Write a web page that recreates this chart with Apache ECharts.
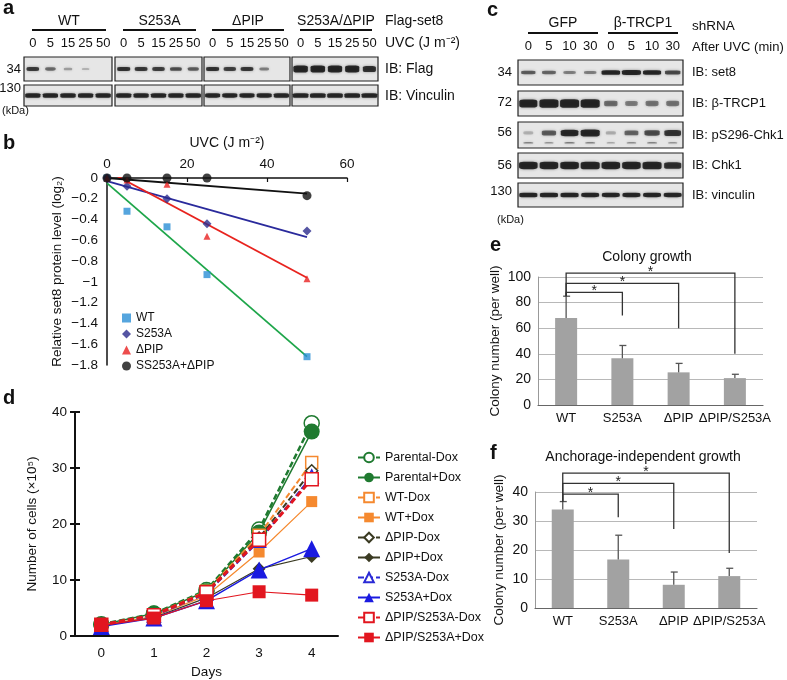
<!DOCTYPE html>
<html><head><meta charset="utf-8">
<script src="https://cdn.jsdelivr.net/npm/echarts@6/dist/echarts.min.js"></script>
<style>html,body{margin:0;padding:0;background:#fff}#c{width:787px;height:680px}</style>
</head><body><div id="c"></div>
<script>
const FONT = "'Liberation Sans', Arial, Helvetica, sans-serif";

// ---------- Panel a (blot band intensities 0..1) ----------
const aGroups = ['WT', 'S253A', 'ΔPIP', 'S253A/ΔPIP'];
const aLaneLabels = ['0', '5', '15', '25', '50'];
const aRowLabels = ['IB: Flag', 'IB: Vinculin'];
const aKda = ['34', '130'];
const aFlag = [
  [0.72, 0.42, 0.14, 0.02, 0],
  [0.78, 0.74, 0.7, 0.6, 0.5],
  [0.78, 0.68, 0.74, 0.3, 0],
  [1, 1, 0.96, 0.95, 0.8]
];
const aVinculin = [
  [0.9, 0.9, 0.92, 0.9, 0.9],
  [0.9, 0.9, 0.9, 0.9, 0.92],
  [0.88, 0.88, 0.88, 0.88, 0.9],
  [0.95, 0.95, 0.95, 0.95, 0.95]
];

// ---------- Panel b ----------
const bDose = [0, 5, 15, 25, 50];
const bWT = [0, -0.32, -0.47, -0.93, -1.72];
const bS253A = [0, -0.08, -0.2, -0.44, -0.51];
const bPIP = [0, -0.02, -0.06, -0.56, -0.97];
const bDouble = [0, 0, 0, 0, -0.17];
const bFitX = [0, 50];
const bFitWT = [-0.05, -1.72];
const bFitS253A = [-0.03, -0.57];
const bFitPIP = [0.07, -0.96];
const bFitDouble = [0, -0.15];
const bNames = ['WT', 'S253A', 'ΔPIP', 'SS253A+ΔPIP'];

// ---------- Panel c ----------
const cGroups = ['GFP', 'β-TRCP1'];
const cLaneLabels = ['0', '5', '10', '30', '0', '5', '10', '30'];
const cRowLabels = ['IB: set8', 'IB: β-TRCP1', 'IB: pS296-Chk1', 'IB: Chk1', 'IB: vinculin'];
const cKda = ['34', '72', '56', '56', '130'];
const cBands = [
  [0.5, 0.45, 0.3, 0.3, 0.95, 1, 0.9, 0.62],
  [0.9, 1, 1, 1, 0.4, 0.3, 0.35, 0.35],
  [0.03, 0.5, 0.85, 1, 0.05, 0.45, 0.6, 0.75],
  [0.95, 0.95, 0.95, 1, 0.95, 0.95, 1, 0.8],
  [0.9, 0.9, 0.9, 0.88, 0.88, 0.88, 0.88, 0.88]
];
const cLowerBand = [0.3, 0.2, 0.35, 0.3, 0.1, 0.25, 0.3, 0.2];

// ---------- Panel d ----------
const dDays = ['0', '1', '2', '3', '4'];
const dNames = ['Parental-Dox', 'Parental+Dox', 'WT-Dox', 'WT+Dox', 'ΔPIP-Dox', 'ΔPIP+Dox',
  'S253A-Dox', 'S253A+Dox', 'ΔPIP/S253A-Dox', 'ΔPIP/S253A+Dox'];
const dParentalMinus = [2.1, 4.0, 8.2, 19.0, 38.0];
const dParentalPlus = [2.0, 4.0, 8.0, 18.5, 36.5];
const dWTMinus = [2.0, 3.8, 8.0, 18.0, 31.0];
const dWTPlus = [1.9, 3.5, 7.2, 15.0, 24.0];
const dPIPMinus = [2.0, 3.8, 7.8, 17.5, 29.5];
const dPIPPlus = [1.8, 3.3, 6.8, 12.0, 14.2];
const dS253AMinus = [1.9, 3.6, 7.6, 17.0, 28.5];
const dS253APlus = [1.7, 3.2, 6.3, 11.8, 15.6];
const dDoubleMinus = [2.0, 3.7, 7.8, 17.2, 28.0];
const dDoublePlus = [1.9, 3.2, 6.3, 7.9, 7.3];

// ---------- Panels e, f ----------
const barCats = ['WT', 'S253A', 'ΔPIP', 'ΔPIP/S253A'];
const eValues = [68, 36.5, 25.5, 21];
const eSD = [17, 10, 7, 3];
const eBrackets = [[0, 1, 88, 70, 85], [0, 2, 95, 60, 85], [0, 3, 103, 40, 85]];
const fValues = [34, 16.7, 8, 11];
const fSD = [2.7, 8.4, 4.4, 2.7];
const fBrackets = [[0, 1, 39.3, 31.3, 36.7], [0, 2, 43, 27.2, 36.7], [0, 3, 46.5, 19, 36.7]];

// ================= layout =================
const aBoxLeft = [24, 115, 204, 292], aBoxW = [88, 87, 86, 86];
const aRowTop = [57, 85], aRowH = [24, 21];
const cBoxLeft = 518, cBoxW = 165;
const cRowTop = [60, 91, 122, 153, 183], cRowH = [25, 25, 26, 25, 24];

const grids = [], xAxes = [], yAxes = [], series = [], graphics = [];

function txt(x, y, s, opt) {
  graphics.push(Object.assign({ type: 'text', x: x, y: y, z: 10,
    style: Object.assign({ text: s, fontFamily: FONT, fontSize: 13, fill: '#111', align: 'left', verticalAlign: 'middle' }, opt || {}) }));
}
function hline(x1, x2, y, w) {
  graphics.push({ type: 'line', z: 10, shape: { x1: x1, y1: y, x2: x2, y2: y }, style: { stroke: '#111', lineWidth: w || 1.8 } });
}
function bandColor(p) {
  const v = p.value[2];
  const a = v < 0.02 ? 0 : Math.min(1, 0.22 + 0.9 * v);
  return 'rgba(6,6,6,' + a.toFixed(3) + ')';
}
function addBlot(left, top, w, h, ids, labels, showLabels, rows) {
  const gi = grids.length, ai = xAxes.length;
  grids.push({ left: left, top: top, width: w, height: h, show: true, backgroundColor: '#e6e6e6', borderColor: '#222', borderWidth: 1.2 });
  xAxes.push({ gridIndex: gi, type: 'category', data: ids, boundaryGap: true, position: 'top',
    axisLine: { show: false }, axisTick: { show: false }, splitLine: { show: false },
    axisLabel: { show: showLabels, interval: 0, margin: 7, fontSize: 13, color: '#111', fontFamily: FONT,
      formatter: (v, i) => labels[i] } });
  yAxes.push({ gridIndex: gi, type: 'value', min: 0, max: 1, show: false });
  rows.forEach(r => {
    series.push({ type: 'scatter', xAxisIndex: ai, yAxisIndex: ai, silent: true, z: 3,
      data: r.vals.map((v, i) => [i, r.y, v]),
      symbol: 'roundRect',
      symbolSize: d => [r.w * (0.5 + 0.5 * d[2]), Math.max(1.5, r.h * (0.45 + 0.55 * d[2]))],
      itemStyle: { color: bandColor, shadowBlur: 3, shadowColor: 'rgba(0,0,0,0.5)' } });
  });
}

// ---- panel a blots
aGroups.forEach((g, gi) => {
  addBlot(aBoxLeft[gi], aRowTop[0], aBoxW[gi], aRowH[0], aLaneLabels, aLaneLabels, true,
    [{ vals: aFlag[gi], y: 0.5, w: 14.5, h: gi === 3 ? 7 : 4.8 }]);
  addBlot(aBoxLeft[gi], aRowTop[1], aBoxW[gi], aRowH[1], aLaneLabels, aLaneLabels, false,
    [{ vals: aVinculin[gi], y: 0.5, w: 16, h: 4.8 }]);
});
// ---- panel c blots
const cIds = cLaneLabels.map((l, i) => 'lane' + i);
const cBandH = [4.8, 8.5, 7, 7.5, 4.8];
cBands.forEach((vals, r) => {
  const rows = [{ vals: vals, y: r === 2 ? 0.58 : 0.5, w: 19, h: cBandH[r] }];
  if (r === 2) rows.push({ vals: cLowerBand, y: 0.2, w: 15, h: 2.2 });
  addBlot(cBoxLeft, cRowTop[r], cBoxW, cRowH[r], cIds, cLaneLabels, r === 0, rows);
});

// ---- panel b
const gB = grids.length, aB = xAxes.length;
grids.push({ left: 107, top: 178, width: 240, height: 187 });
xAxes.push({ gridIndex: gB, type: 'value', min: 0, max: 60, interval: 20, position: 'top',
  axisLine: { lineStyle: { color: '#111', width: 1.5 } },
  axisTick: { inside: true, length: 4, lineStyle: { color: '#111', width: 1.2 } },
  splitLine: { show: false },
  axisLabel: { fontSize: 13.5, color: '#111', margin: 7, fontFamily: FONT },
  name: 'UVC (J m⁻²)', nameLocation: 'middle', nameGap: 28,
  nameTextStyle: { fontSize: 14, color: '#111', fontFamily: FONT } });
yAxes.push({ gridIndex: gB, type: 'value', min: -1.8, max: 0, interval: 0.2,
  axisLine: { show: true, lineStyle: { color: '#111', width: 1.5 } },
  axisTick: { show: false }, splitLine: { show: false },
  axisLabel: { fontSize: 13.5, color: '#111', margin: 9, fontFamily: FONT,
    formatter: v => { const a = Math.round(Math.abs(v) * 10) / 10; return a === 0 ? '0' : '−' + a; } },
  name: 'Relative set8 protein level (log₂)', nameLocation: 'middle', nameGap: 43,
  nameTextStyle: { fontSize: 13.5, color: '#111', fontFamily: FONT } });
[[bFitWT, '#1ea64a'], [bFitS253A, '#2a2a9c'], [bFitPIP, '#e8231e'], [bFitDouble, '#111']].forEach(([f, col]) => {
  series.push({ type: 'line', xAxisIndex: aB, yAxisIndex: aB, data: bFitX.map((x, i) => [x, f[i]]),
    symbol: 'none', silent: true, lineStyle: { color: col, width: 1.8 }, z: 2 });
});
const bMarks = [[bWT, 'rect', 7, '#2b8fd6'], [bS253A, 'diamond', 9, '#2b2a8c'], [bPIP, 'triangle', 7, '#e82020'], [bDouble, 'circle', 9, '#111']];
bMarks.forEach(([vals, sym, sz, col], k) => {
  series.push({ type: 'scatter', name: bNames[k], xAxisIndex: aB, yAxisIndex: aB,
    data: bDose.map((x, i) => [x, vals[i]]), symbol: sym, symbolSize: sz,
    itemStyle: { color: col }, z: 4 + k });
});

// ---- panel d
const gD = grids.length, aD = xAxes.length;
grids.push({ left: 75, top: 412, width: 263, height: 225 });
xAxes.push({ gridIndex: gD, type: 'category', data: dDays, boundaryGap: true,
  axisLine: { lineStyle: { color: '#111', width: 2 } },
  axisTick: { length: 5, lineStyle: { color: '#111', width: 2 } },
  axisLabel: { fontSize: 13.5, color: '#111', margin: 10, fontFamily: FONT },
  name: 'Days', nameLocation: 'middle', nameGap: 29, nameTextStyle: { fontSize: 13.5, color: '#111', fontFamily: FONT } });
yAxes.push({ gridIndex: gD, type: 'value', min: 0, max: 40, interval: 10,
  axisLine: { show: true, lineStyle: { color: '#111', width: 2 } },
  axisTick: { show: true, length: 5, lineStyle: { color: '#111', width: 2 } },
  splitLine: { show: false },
  axisLabel: { fontSize: 13.5, color: '#111', margin: 8, fontFamily: FONT },
  name: 'Number of cells (×10⁵)', nameLocation: 'middle', nameGap: 36,
  nameTextStyle: { fontSize: 13.5, color: '#111', fontFamily: FONT } });
// inner half of crossing ticks
xAxes.push({ gridIndex: gD, type: 'category', data: dDays, boundaryGap: true, position: 'bottom',
  axisLine: { show: false }, axisLabel: { show: false },
  axisTick: { inside: true, length: 5, lineStyle: { color: '#111', width: 2 } } });
yAxes.push({ gridIndex: gD, type: 'value', min: 0, max: 40, interval: 10, position: 'left',
  axisLine: { show: false }, axisLabel: { show: false }, splitLine: { show: false },
  axisTick: { show: true, inside: true, length: 5, lineStyle: { color: '#111', width: 2 } } });
const dSeriesVals = [dParentalMinus, dParentalPlus, dWTMinus, dWTPlus, dPIPMinus, dPIPPlus, dS253AMinus, dS253APlus, dDoubleMinus, dDoublePlus];
const dStyles = [
  { c: '#1f7a30', s: 'circle', z: 15, open: true, dash: true, lw: 2.5 },
  { c: '#1f7a30', s: 'circle', z: 16, open: false, dash: false, lw: 1.5 },
  { c: '#f5892f', s: 'rect', z: 12, open: true, dash: true, lw: 2 },
  { c: '#f5892f', s: 'rect', z: 11, open: false, dash: false, lw: 1.2 },
  { c: '#3a3a22', s: 'diamond', z: 12, open: true, dash: true, lw: 2 },
  { c: '#3a3a22', s: 'diamond', z: 13, open: false, dash: false, lw: 1.2 },
  { c: '#2a2ad6', s: 'triangle', z: 13, open: true, dash: true, lw: 2 },
  { c: '#1a1ae0', s: 'triangle', z: 17, open: false, dash: false, lw: 1.5 },
  { c: '#e2161f', s: 'rect', z: 13, open: true, dash: true, lw: 3 },
  { c: '#e2161f', s: 'rect', z: 13, open: false, dash: false, lw: 1.2 }
];
dSeriesVals.forEach((vals, k) => {
  const st = dStyles[k];
  series.push({ type: 'line', name: dNames[k], xAxisIndex: aD, yAxisIndex: aD, data: vals,
    symbol: st.s, symbolSize: st.z,
    lineStyle: { color: st.c, width: st.lw, type: st.dash ? [6, 3] : 'solid' },
    itemStyle: st.open ? { color: '#fff', borderColor: st.c, borderWidth: 1.5 } : { color: st.c, borderColor: st.c, borderWidth: 0 },
    z: 3 + k * 0.1 });
});

// ---- panels e, f
function barPanel(left, top, w, h, max, interval, values, sd, brackets, nameGap) {
  const gi = grids.length, ai = xAxes.length;
  grids.push({ left: left, top: top, width: w, height: h });
  xAxes.push({ gridIndex: gi, type: 'category', data: barCats,
    axisLine: { lineStyle: { color: '#666', width: 1.2 } }, axisTick: { show: false },
    axisLabel: { fontSize: 13, color: '#111', margin: 7, interval: 0, fontFamily: FONT } });
  yAxes.push({ gridIndex: gi, type: 'value', min: 0, max: max, interval: interval,
    axisLine: { show: true, lineStyle: { color: '#999', width: 1 } }, axisTick: { show: false },
    splitLine: { lineStyle: { color: '#b8b8b8', width: 1 } },
    axisLabel: { fontSize: 14, color: '#111', margin: 7, fontFamily: FONT },
    name: 'Colony number (per well)', nameLocation: 'middle', nameGap: nameGap,
    nameTextStyle: { fontSize: 13.5, color: '#111', fontFamily: FONT } });
  series.push({ type: 'bar', xAxisIndex: ai, yAxisIndex: ai, data: values, barWidth: 22,
    itemStyle: { color: '#a2a2a2' }, silent: true, z: 2 });
  series.push({ type: 'custom', xAxisIndex: ai, yAxisIndex: ai, silent: true, z: 3,
    data: values.map((v, i) => [i, v, sd[i]]),
    renderItem: (p, api) => {
      const x = api.value(0), v = api.value(1), e = api.value(2);
      const b = api.coord([x, v]), t = api.coord([x, v + e]);
      return { type: 'group', children: [
        { type: 'line', shape: { x1: b[0], y1: b[1], x2: t[0], y2: t[1] }, style: { stroke: '#555', lineWidth: 1.3 } },
        { type: 'line', shape: { x1: t[0] - 3, y1: t[1], x2: t[0] + 4, y2: t[1] }, style: { stroke: '#555', lineWidth: 1.3 } }
      ] };
    } });
  series.push({ type: 'custom', xAxisIndex: ai, yAxisIndex: ai, silent: true, z: 4, clip: false,
    data: brackets,
    renderItem: (p, api) => {
      const f = api.value(0), t = api.value(1), lv = api.value(2), dr = api.value(3), s0 = api.value(4);
      const p0 = api.coord([f, s0]), p1 = api.coord([f, lv]), p2 = api.coord([t, lv]), p3 = api.coord([t, dr]);
      return { type: 'group', children: [
        { type: 'polyline', shape: { points: [p0, p1, p2, p3] }, style: { stroke: '#333', fill: null, lineWidth: 1.3 } },
        { type: 'text', x: (p1[0] + p2[0]) / 2, y: p1[1] - 1,
          style: { text: '*', align: 'center', verticalAlign: 'middle', fontSize: 14, fill: '#222', fontFamily: FONT } }
      ] };
    } });
}
barPanel(538, 277, 225, 128, 100, 20, eValues, eSD, eBrackets, 36);
barPanel(535, 492, 222, 116, 40, 10, fValues, fSD, fBrackets, 29);

// ================= annotations =================
const letter = { fontSize: 20, fontWeight: 'bold' };
txt(3, 8, 'a', letter); txt(3, 143, 'b', letter); txt(487, 10, 'c', letter);
txt(3, 398, 'd', letter); txt(490, 245, 'e', letter); txt(490, 453, 'f', letter);

// panel a texts
aGroups.forEach((g, i) => {
  const l = aBoxLeft[i] + 8, r = aBoxLeft[i] + aBoxW[i] - 6;
  txt((l + r) / 2, 21, g, { fontSize: 14, align: 'center' });
  hline(l, r, 30, 1.8);
});
txt(385, 21, 'Flag-set8', { fontSize: 14 });
txt(385, 43, 'UVC (J m⁻²)', { fontSize: 14 });
txt(385, 69, aRowLabels[0], { fontSize: 14 });
txt(385, 96, aRowLabels[1], { fontSize: 14 });
txt(21, 69, aKda[0], { fontSize: 13, align: 'right' });
txt(21, 88, aKda[1], { fontSize: 13, align: 'right' });
txt(2, 111, '(kDa)', { fontSize: 11 });

// panel c texts
[[528, 598], [608, 678]].forEach(([l, r], i) => {
  txt((l + r) / 2, 23, cGroups[i], { fontSize: 14, align: 'center' });
  hline(l, r, 33, 1.8);
});
txt(692, 26, 'shRNA', { fontSize: 13.5 });
txt(692, 47, 'After UVC (min)', { fontSize: 13 });
cRowLabels.forEach((s, r) => txt(692, cRowTop[r] + cRowH[r] / 2, s, { fontSize: 13 }));
const cKdaY = [72, 102, 132, 165, 191];
cKda.forEach((s, r) => txt(512, cKdaY[r], s, { fontSize: 13, align: 'right' }));
txt(497, 220, '(kDa)', { fontSize: 11 });

// titles e, f
txt(647, 257, 'Colony growth', { fontSize: 14, align: 'center' });
txt(643, 457, 'Anchorage-independent growth', { fontSize: 14, align: 'center' });

const option = {
  animation: false,
  backgroundColor: '#fff',
  textStyle: { fontFamily: FONT },
  grid: grids, xAxis: xAxes, yAxis: yAxes, series: series,
  legend: [
    { data: bNames, orient: 'vertical', left: 117, top: 307, itemGap: 4, itemWidth: 9, itemHeight: 9,
      selectedMode: false, textStyle: { fontSize: 12, color: '#111', fontFamily: FONT } },
    { data: dNames, orient: 'vertical', left: 352, top: 446, itemGap: 7, itemWidth: 22, itemHeight: 12,
      selectedMode: false, textStyle: { fontSize: 12.5, color: '#111', fontFamily: FONT } }
  ],
  graphic: graphics
};
const chart = echarts.init(document.getElementById('c'), null, { renderer: 'canvas' });
chart.setOption(option);
</script></body></html>
